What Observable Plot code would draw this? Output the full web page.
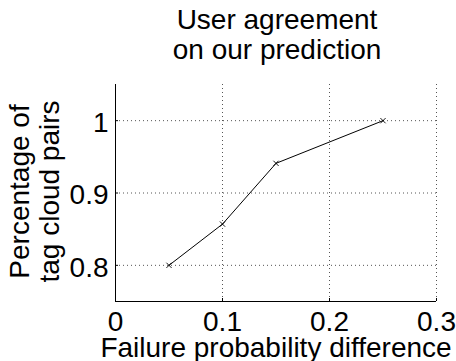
<!DOCTYPE html>
<html><head><meta charset="utf-8">
<script src="https://cdn.jsdelivr.net/npm/d3@7"></script>
<script src="https://cdn.jsdelivr.net/npm/@observablehq/plot@0.6"></script>
<style>
body{margin:0;background:#fff}
svg{font-family:"Liberation Sans",Arial,Helvetica,sans-serif}
</style>
</head><body><div id="chart"></div>
<script>
const xValues = [0.05, 0.10, 0.15, 0.25];
const yValues = [0.80, 0.857, 0.941, 1.00];
const xTicks = [0, 0.1, 0.2, 0.3];
const yTicks = [0.8, 0.9, 1];
const xTickLabels = ["0", "0.1", "0.2", "0.3"];
const yTickLabels = ["0.8", "0.9", "1"];
const titleText = "User agreement\non our prediction";
const xLabel = "Failure probability difference";
const yLabel = "Percentage of\ntag cloud pairs";

const points = xValues.map((x, i) => ({x, y: yValues[i]}));
const gridStyle = {stroke: "#555", strokeDasharray: "1,3", strokeWidth: 1};
const fs = 28;

const chart = Plot.plot({
  width: 456,
  height: 361,
  marginLeft: 115,
  marginRight: 20,
  marginTop: 84,
  marginBottom: 60,
  x: {domain: [0, 0.3], axis: null},
  y: {domain: [0.75, 1.05], axis: null},
  style: {background: "white", color: "black", fontFamily: '"Liberation Sans", Arial, sans-serif'},
  marks: [
    Plot.ruleX(xTicks.slice(1), gridStyle),
    Plot.ruleY(yTicks, gridStyle),
    Plot.tickX(xTicks, {x: d => d, stroke: "black", insetTop: 214}),
    Plot.tickY(yTicks, {y: d => d, stroke: "black", insetRight: 318}),
    Plot.ruleX([0], {stroke: "black", strokeWidth: 1}),
    Plot.ruleY([0.75], {stroke: "black", strokeWidth: 1}),
    Plot.line(points, {x: "x", y: "y", stroke: "black", strokeWidth: 1}),
    Plot.dot(points, {x: "x", y: "y", symbol: "times", r: 2.5, stroke: "black", strokeWidth: 0.9}),
    Plot.text(xTicks, {x: d => d, text: (d, i) => xTickLabels[i], frameAnchor: "bottom", lineAnchor: "middle", dy: 21, fontSize: fs, fill: "black"}),
    Plot.text(yTicks, {y: d => d, text: (d, i) => yTickLabels[i], frameAnchor: "left", lineAnchor: "middle", dx: -7, dy: 2.5, textAnchor: "end", fontSize: fs, fill: "black"}),
    Plot.text([titleText], {frameAnchor: "top", lineAnchor: "middle", textAnchor: "middle", dx: 1, dy: -50, fontSize: fs, lineHeight: 1.05, fill: "black"}),
    Plot.text([xLabel], {frameAnchor: "bottom", lineAnchor: "middle", textAnchor: "middle", dy: 46.5, fontSize: fs, fill: "black"}),
    Plot.text([yLabel], {frameAnchor: "left", lineAnchor: "middle", textAnchor: "middle", dx: -81, dy: -1.5, rotate: -90, fontSize: fs, lineHeight: 1.05, fill: "black"})
  ]
});
document.getElementById("chart").appendChild(chart);
</script>
</body></html>
